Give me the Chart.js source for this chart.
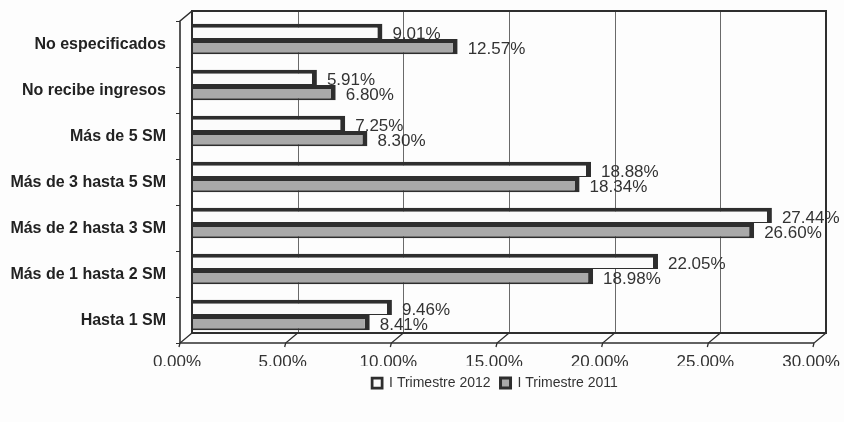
<!DOCTYPE html>
<html>
<head>
<meta charset="utf-8">
<script src="https://cdn.jsdelivr.net/npm/chart.js@4/dist/chart.umd.min.js"></script>
<style>
  html, body { margin: 0; padding: 0; background: #fdfdfd; }
  #wrap { width: 844px; height: 422px; }
</style>
</head>
<body>
<div id="wrap"><canvas id="c" width="844" height="422"></canvas></div>
<script>
// Income brackets (salarios mínimos) and share of population per quarter
const categories = [
  'No especificados',
  'No recibe ingresos',
  'Más de 5 SM',
  'Más de 3 hasta 5 SM',
  'Más de 2 hasta 3 SM',
  'Más de 1 hasta 2 SM',
  'Hasta 1 SM'
];
const trimestre2012 = [9.01, 5.91, 7.25, 18.88, 27.44, 22.05, 9.46];
const trimestre2011 = [12.57, 6.80, 8.30, 18.34, 26.60, 18.98, 8.41];
const seriesNames = ['I Trimestre 2012', 'I Trimestre 2011'];
const xTicks = [0, 5, 10, 15, 20, 25, 30];

const INK = '#2e2e2e';
const FONT = '"Liberation Sans", Arial, sans-serif';

// Depth offsets for the pseudo-3D frame (back wall vs. front edge)
const BACK = { dx: 0, dy: -5 };
const FRONT = { dx: -12, dy: 5 };

const frame3d = {
  id: 'frame3d',
  beforeDraw(chart) {
    // centre the legend under the plot floor rather than the whole canvas
    const lg = chart.legend;
    if (lg) {
      const a = chart.chartArea;
      const mid = (a.left + a.right) / 2 - 14;
      const w = lg.right - lg.left;
      lg.left = mid - w / 2;
      lg.right = lg.left + w;
    }
  },
  beforeDatasetsDraw(chart) {
    const { ctx, chartArea: a, scales: { x } } = chart;
    ctx.save();
    // vertical gridlines on the back wall
    ctx.strokeStyle = '#6a6a6a';
    ctx.lineWidth = 1;
    xTicks.slice(1, -1).forEach(v => {
      const px = Math.round(x.getPixelForValue(v)) + 0.5;
      ctx.beginPath();
      ctx.moveTo(px, a.top + BACK.dy);
      ctx.lineTo(px, a.bottom + BACK.dy);
      ctx.stroke();
    });
    // back wall outline
    ctx.strokeStyle = INK;
    ctx.lineWidth = 2;
    ctx.strokeRect(a.left, a.top + BACK.dy, a.right - a.left, a.bottom - a.top);
    // floor: slanted lines from back to front at each tick
    ctx.lineWidth = 1.3;
    xTicks.forEach(v => {
      const px = x.getPixelForValue(v);
      ctx.beginPath();
      ctx.moveTo(px, a.bottom + BACK.dy);
      ctx.lineTo(px + FRONT.dx, a.bottom + FRONT.dy);
      ctx.lineTo(px + FRONT.dx - 1, a.bottom + FRONT.dy + 4);
      ctx.stroke();
    });
    ctx.lineWidth = 1.6;
    ctx.beginPath();
    ctx.moveTo(a.left + FRONT.dx, a.bottom + FRONT.dy);
    ctx.lineTo(a.right + FRONT.dx, a.bottom + FRONT.dy);
    ctx.stroke();
    // left wall
    ctx.beginPath();
    ctx.moveTo(a.left, a.top + BACK.dy);
    ctx.lineTo(a.left + FRONT.dx, a.top + FRONT.dy);
    ctx.lineTo(a.left + FRONT.dx, a.bottom + FRONT.dy);
    ctx.stroke();
    // category separators on the left wall
    ctx.lineWidth = 1;
    const step = (a.bottom - a.top) / categories.length;
    for (let i = 0; i <= categories.length; i++) {
      const py = Math.round(a.top + i * step + FRONT.dy) + 0.5;
      ctx.beginPath();
      ctx.moveTo(a.left + FRONT.dx, py);
      ctx.lineTo(a.left + FRONT.dx - 4, py);
      ctx.stroke();
    }
    ctx.restore();
  }
};

const valueLabels = {
  id: 'valueLabels',
  afterDatasetsDraw(chart) {
    const { ctx } = chart;
    ctx.save();
    ctx.font = '17px ' + FONT;
    ctx.fillStyle = '#333';
    ctx.textAlign = 'left';
    ctx.textBaseline = 'middle';
    chart.data.datasets.forEach((ds, di) => {
      chart.getDatasetMeta(di).data.forEach((el, i) => {
        ctx.fillText(ds.data[i].toFixed(2) + '%', el.x + 10, el.y + 3);
      });
    });
    ctx.restore();
  }
};

new Chart(document.getElementById('c'), {
  type: 'bar',
  data: {
    labels: categories,
    datasets: [
      {
        label: seriesNames[0],
        data: trimestre2012,
        backgroundColor: '#fbfbfb',
        borderColor: INK,
        borderWidth: { top: 4, right: 5, bottom: 1, left: 1 },
        borderSkipped: false
      },
      {
        label: seriesNames[1],
        data: trimestre2011,
        backgroundColor: '#a9a9a9',
        borderColor: INK,
        borderWidth: { top: 4, right: 5, bottom: 2, left: 1 },
        borderSkipped: false
      }
    ]
  },
  options: {
    indexAxis: 'y',
    responsive: false,
    animation: false,
    devicePixelRatio: 1,
    categoryPercentage: 0.66,
    barPercentage: 1.0,
    layout: { padding: { left: 0, right: 18, top: 16, bottom: 22 } },
    scales: {
      x: {
        min: 0,
        max: 30,
        grid: { display: false, drawTicks: false },
        border: { display: false },
        ticks: {
          stepSize: 5,
          color: '#333',
          font: { family: FONT, size: 17 },
          padding: 14,
          labelOffset: -15,
          callback: v => Number(v).toFixed(2) + '%'
        },
        afterFit(scale) {
          scale.height = 28;
          scale.paddingLeft = 0;
          scale.paddingRight = 0;
        }
      },
      y: {
        grid: { display: false, drawTicks: false },
        border: { display: false },
        ticks: {
          color: '#222',
          font: { family: FONT, size: 16, weight: 'bold' },
          padding: 26,
          labelOffset: 6
        },
        afterFit(scale) {
          scale.width = 192;
          scale.paddingTop = 0;
          scale.paddingBottom = 0;
        }
      }
    },
    plugins: {
      legend: {
        position: 'bottom',
        labels: {
          color: '#333',
          font: { family: FONT, size: 14 },
          boxWidth: 10,
          boxHeight: 10,
          padding: 10
        }
      },
      tooltip: { enabled: false }
    }
  },
  plugins: [frame3d, valueLabels]
});
</script>
</body>
</html>
